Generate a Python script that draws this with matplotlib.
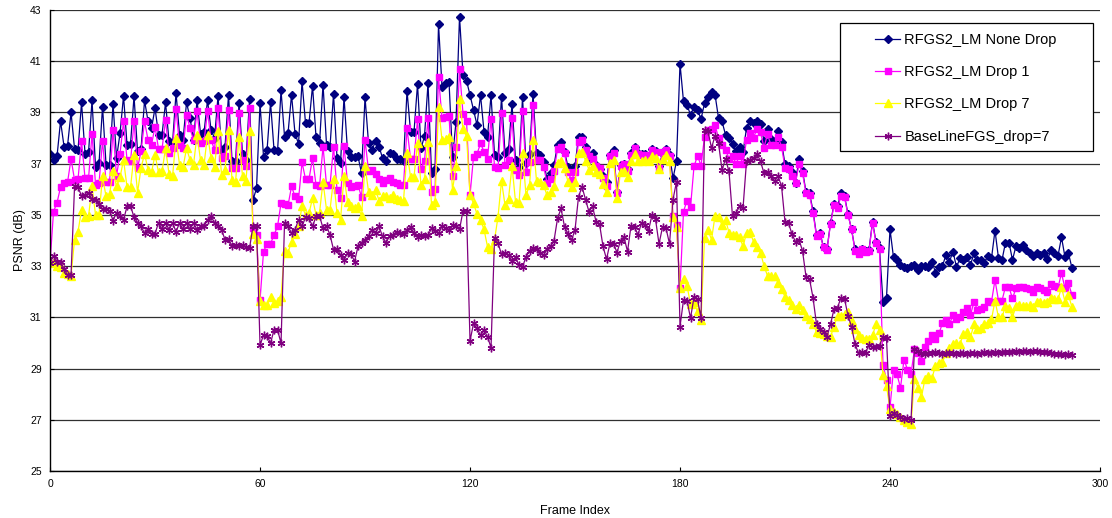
import numpy as np
import matplotlib
matplotlib.use("Agg")
import matplotlib.pyplot as plt
from matplotlib.patches import Rectangle

plt.rcParams['font.family'] = ['Liberation Sans', 'DejaVu Sans']

# PSNR per frame (dB), frames 0..292
none_drop = [
    37.39, 37.13, 37.3, 38.66, 37.67, 37.70, 39.0, 37.58, 37.54, 39.39,
    37.39, 37.44, 39.47, 36.86, 37.02, 39.23, 36.96, 36.96, 39.34, 37.22,
    38.19, 39.65, 37.74, 37.78, 39.63, 37.48, 37.57, 39.47, 38.66, 38.39,
    39.17, 38.13, 38.13, 39.39, 37.87, 37.80, 39.76, 38.13, 37.93, 39.39,
    38.78, 37.93, 39.47, 38.17, 38.22, 39.49, 38.32, 38.0, 39.65, 37.48,
    37.67, 39.69,
    37.11, 37.11, 39.36, 37.39, 37.15, 39.52, 35.59, 36.04, 39.36, 37.26,
    37.52, 39.39, 37.54, 37.48, 39.86, 38.06, 38.19, 39.69, 38.17, 37.78,
    40.21, 38.58, 38.58, 40.04, 38.04, 37.8, 40.09, 37.74, 37.67, 39.73,
    37.22, 37.02, 39.6, 37.48, 37.26, 37.26, 37.28, 36.63, 39.6, 37.8,
    37.54, 37.87, 37.67, 37.22, 37.09, 37.41, 37.39, 37.19, 37.19, 37.09,
    39.85, 38.25, 38.25, 40.11, 37.6, 38.08, 40.14, 36.62, 36.78, 42.45,
    40.0, 40.14, 40.2, 37.27, 38.64, 42.74, 40.46, 40.24, 39.68, 39.09,
    38.51, 39.68, 38.25, 38.05, 39.68, 37.34, 37.27, 39.61, 37.4, 37.56,
    39.33, 37.14, 36.88, 39.59, 37.01, 37.38, 39.72, 37.4, 37.34, 37.08,
    36.42, 36.62, 36.95, 37.73, 37.86, 37.47, 36.88, 36.75, 36.91, 38.05,
    38.05, 37.66,
    37.2, 37.4, 36.96, 36.8, 36.5, 36.3, 37.35, 37.54, 35.9, 36.95,
    37.0, 36.8, 37.4, 37.67, 37.4, 37.38, 37.38, 37.28, 37.57, 37.48,
    36.92, 37.38, 37.57, 37.35, 36.43, 37.1,
    40.9, 39.43, 39.3, 38.9, 39.23, 39.1, 38.74, 39.36, 39.6, 39.8,
    39.7, 38.78, 38.65, 38.13, 38.0, 37.78, 37.48, 37.67, 37.44, 38.39,
    38.67, 38.58, 38.67, 38.54, 37.9, 38.35, 37.96, 37.9, 38.28, 37.83,
    36.98, 36.92, 36.68, 36.26, 37.18, 36.72, 35.9, 35.85, 35.16, 34.21,
    34.31, 33.73, 33.66, 34.68, 35.42, 35.33, 35.85, 35.74, 35.03, 34.44,
    33.66, 33.5, 33.66, 33.6, 33.64, 34.73, 33.95, 33.69, 31.6, 31.77,
    34.44, 33.34, 33.25,
    33.05, 32.96, 32.92, 33.01, 33.05, 32.85, 33.01, 33.01, 32.96, 33.18,
    32.75, 32.98, 33.01, 33.44, 33.18, 33.57, 32.96, 33.31, 33.24, 33.35,
    33.05, 33.5, 33.22, 33.22, 33.14, 33.4, 33.31, 34.39, 33.31, 33.24,
    33.92, 33.92, 33.24, 33.79, 33.7, 33.83, 33.61, 33.53, 33.4, 33.53,
    33.44, 33.53, 33.27, 33.61, 33.53, 33.4, 34.13, 33.35, 33.5, 32.92,
]

drop_1 = [
    33.14, 35.13, 35.48, 36.08, 36.24, 36.27, 37.19, 36.37, 36.4, 37.89,
    36.43, 36.43, 38.17, 36.17, 36.24, 37.9, 36.3, 36.3, 38.3, 36.53,
    37.39, 38.65, 37.15, 37.09, 38.65, 36.83, 37.48, 38.65, 37.93, 37.74,
    38.45, 37.57, 37.57, 38.71, 37.41, 37.6, 39.13, 37.71, 37.6, 38.91,
    38.39, 37.91, 39.04, 37.8, 37.87, 39.04, 37.93, 37.54, 39.17, 37.22,
    37.31, 39.1,
    36.83, 36.83, 38.97, 37.15, 36.89, 39.17, 34.48, 34.22, 31.66, 33.57,
    33.87, 33.87, 34.22, 34.55, 35.46, 35.43, 35.37, 36.11, 35.72, 35.61,
    37.05, 36.4, 36.4, 37.22, 36.17, 36.11, 37.67, 36.17, 36.17, 37.67,
    35.98, 35.65, 37.7, 36.24, 36.08, 36.14, 36.17, 35.69, 37.93, 36.73,
    36.76, 36.6, 36.4, 36.24, 36.37, 36.43, 36.3, 36.24, 36.17, 36.17,
    38.38, 37.2, 37.2, 38.73, 36.78, 37.11, 38.77, 35.9, 36.03, 40.4,
    38.77, 38.83, 38.86, 36.52, 37.64, 40.68, 38.94, 38.68, 35.77, 37.27,
    37.38, 37.79, 37.47, 37.2, 38.73, 36.88, 36.82, 38.96, 36.95, 37.14,
    38.77, 36.75, 36.55, 39.07, 36.68, 37.08, 39.29, 37.14, 37.14, 36.88,
    36.26, 36.42, 36.72, 37.56, 37.66, 37.4, 36.68, 36.36, 36.68, 37.86,
    37.92, 37.53,
    37.3, 37.2, 36.9, 36.83, 36.43, 36.14, 37.3, 37.41, 35.85, 36.92,
    37.0, 36.73, 37.35, 37.6, 37.39, 37.35, 37.35, 37.26, 37.54, 37.44,
    36.83, 37.44, 37.54, 37.31, 34.96, 34.6,
    32.14, 35.13, 35.56, 35.3, 36.89, 37.31, 36.92, 38.04, 38.3, 38.35,
    38.52, 38.0, 37.74, 37.54, 37.2, 37.31, 37.0, 37.31, 37.0, 37.93,
    38.19, 38.02, 38.35, 38.22, 37.63, 38.15, 37.72, 37.72, 38.06, 37.67,
    36.85, 36.79, 36.53, 36.24, 36.98, 36.63, 35.85, 35.77, 35.09, 34.16,
    34.25, 33.73, 33.64, 34.64, 35.38, 35.25, 35.75, 35.68, 35.0, 34.45,
    33.6, 33.47, 33.66, 33.56, 33.6, 34.68, 33.92, 33.66,
    29.15, 28.57, 27.48, 28.96, 28.77, 28.25, 29.35, 28.96, 28.8, 29.75,
    29.6, 29.3, 29.86, 30.06, 30.32, 30.15, 30.38, 30.77, 30.9, 30.74,
    31.09, 30.92, 31.03, 31.22, 31.35, 31.09, 31.61, 31.29, 31.32, 31.42,
    31.65, 31.61, 32.46, 31.65, 31.65, 32.2, 32.17, 31.74, 32.14, 32.17,
    32.2, 32.14, 32.1, 32.0, 32.17, 32.14, 32.07, 32.0, 32.3, 32.23,
    32.17, 32.72, 32.14, 32.33, 31.87,
]

drop_7 = [
    33.14, 33.18, 33.01, 32.98, 32.75, 32.7, 32.62, 34.03, 34.35, 35.2,
    34.91, 34.94, 36.11, 35.0, 35.0, 36.5, 35.72, 35.8, 36.7, 36.11,
    36.47, 37.15, 36.08, 36.08, 37.35, 35.87, 36.83, 37.39, 36.76, 36.66,
    37.35, 36.66, 36.7, 37.6, 36.6, 36.5, 38.0, 36.96, 36.86, 37.6,
    37.15, 36.96, 38.13, 37.13, 36.96, 38.13, 37.22, 36.86, 38.26, 36.57,
    36.76, 38.32,
    36.37, 36.27, 38.04, 36.5, 36.34, 38.26, 34.26, 34.05, 31.62, 31.49,
    31.49, 31.79, 31.55, 31.62, 31.81, 33.6, 33.53, 33.96, 34.26, 34.55,
    35.33, 35.0, 35.07, 35.65, 35.0, 35.09, 36.3, 35.2, 35.2, 36.4,
    35.07, 34.81, 36.5, 35.52, 35.33, 35.26, 35.35, 34.94, 36.92, 35.91,
    35.78, 35.98, 35.56, 35.72, 35.72, 35.65, 35.78, 35.61, 35.59, 35.56,
    37.43, 36.49, 36.49, 37.82, 36.16, 36.42, 37.86, 35.38, 35.51, 39.2,
    37.92, 37.95, 38.05, 35.97, 36.91, 39.51, 38.34, 38.08, 35.77, 35.45,
    35.03, 34.8, 34.43, 33.76, 33.65, 34.02, 34.93, 36.33, 35.38, 35.64,
    36.91, 35.51, 35.45, 37.43, 35.77, 36.16, 37.92, 36.33, 36.29, 36.16,
    35.77, 35.9, 36.12, 37.01, 37.11, 36.82, 36.29, 36.1, 36.29, 37.43,
    37.47, 37.11,
    36.76, 36.89, 36.66, 36.6, 36.21, 35.88, 37.02, 37.15, 35.65, 36.66,
    36.7, 36.47, 37.09, 37.39, 37.09, 37.09, 37.15, 37.09, 37.28, 37.22,
    36.79, 37.18, 37.35, 37.09, 34.91, 34.52,
    32.14, 32.49, 32.23, 31.53, 31.58, 31.23, 30.88, 34.09, 34.42, 34.03,
    34.96, 34.91, 34.61, 34.81, 34.31, 34.22, 34.22, 34.13, 33.77, 34.29,
    34.35, 33.95, 33.75, 33.53, 33.01, 32.62, 32.62, 32.6, 32.36, 32.1,
    31.81, 31.68, 31.47, 31.34, 31.47, 31.29, 31.06, 30.95, 30.73, 30.43,
    30.4, 30.34, 30.28, 30.25, 30.64, 31.06, 31.06, 31.12, 31.19, 30.86,
    30.54, 30.3, 30.21, 30.17, 30.17, 30.3, 30.73, 30.5,
    28.73, 28.32, 27.41, 27.3, 27.22, 27.09, 27.0, 26.9, 26.83, 28.6,
    28.25, 27.9, 28.6, 28.7, 28.64, 29.1, 29.2, 29.25, 29.6, 29.8,
    29.96, 29.99, 29.96, 30.35, 30.44, 30.22, 30.74, 30.53, 30.6, 30.74,
    30.79, 30.92, 31.65, 31.0, 31.0, 31.44, 31.35, 31.0, 31.44, 31.48,
    31.44, 31.44, 31.48, 31.42, 31.58, 31.58, 31.55, 31.58, 31.74, 31.7,
    31.7, 32.17, 31.61, 31.87, 31.39,
]

baseline = [
    33.14, 33.4, 33.18, 33.18, 32.88, 32.66, 32.66, 36.11, 36.08, 35.74,
    35.78, 35.85, 35.61, 35.59, 35.43, 35.22, 35.22, 35.17, 34.78, 35.09,
    34.96, 34.81, 35.33, 35.35, 34.91, 34.7, 34.55, 34.29, 34.44, 34.26,
    34.26, 34.7, 34.44, 34.7, 34.42, 34.68, 34.35, 34.68, 34.44, 34.7,
    34.44, 34.68, 34.42, 34.55, 34.55, 34.81, 34.94, 34.7, 34.55, 34.42,
    34.03, 34.05,
    33.79, 33.83, 33.79, 33.83, 33.75, 33.7, 34.57, 34.57, 29.92, 30.31,
    30.28, 29.99, 30.51, 30.51, 29.99, 34.68, 34.55, 34.29, 34.42, 34.81,
    34.55, 34.91, 34.87, 34.55, 34.94, 34.96, 34.48, 34.55, 34.22, 33.64,
    33.66, 33.44, 33.24, 33.5, 33.48, 33.18, 33.77, 33.92, 34.03, 34.18,
    34.42, 34.29, 34.55, 34.16, 33.9, 34.18, 34.22, 34.35, 34.29, 34.26,
    34.41, 34.51, 34.3, 34.15, 34.21, 34.17, 34.2, 34.47, 34.38, 34.28,
    34.56, 34.47, 34.41, 34.6, 34.56, 34.43, 35.16, 35.16, 30.08, 30.76,
    30.57, 30.3, 30.5, 30.24, 29.82,
    34.08, 33.89, 33.47, 33.52, 33.43, 33.21, 33.34, 33.04, 32.97, 33.36,
    33.6, 33.69, 33.65, 33.52, 33.43, 33.65, 33.78, 33.99, 34.86, 35.25,
    34.54, 34.25, 34.02, 34.41, 35.71, 36.1, 35.6, 35.12,
    35.33, 34.74, 34.65, 33.77, 33.27, 33.9, 33.87, 33.53, 34.0, 34.13,
    33.57, 34.57, 34.52, 34.22, 34.7, 34.61, 34.39, 35.0, 34.83, 33.87,
    34.52, 34.48, 33.87, 35.6, 36.3,
    30.64, 31.68, 31.65, 30.97, 31.79, 31.7, 30.97, 38.3, 38.26, 37.61,
    38.09, 37.8, 36.76, 37.18, 36.7, 34.94, 35.07, 35.33, 35.26, 37.09,
    37.15, 37.22, 37.39, 37.09, 36.63, 36.66, 36.5, 36.33, 36.5, 36.14,
    34.73, 34.68, 34.25, 33.95, 34.03, 33.6, 32.59, 32.5, 31.77, 30.73,
    30.56, 30.41, 30.25, 30.73, 31.32, 31.38, 31.77, 31.73, 31.06, 30.64,
    29.96, 29.6, 29.66, 29.62, 29.92, 29.86, 29.86, 29.9, 30.25, 30.18,
    27.15, 27.25, 27.18, 27.1, 27.05, 27.07, 26.98,
    29.76, 29.67, 29.6, 29.58, 29.62, 29.6, 29.63, 29.6, 29.58, 29.6,
    29.62, 29.6, 29.57, 29.6, 29.62, 29.58, 29.6, 29.61, 29.58, 29.6,
    29.63, 29.62, 29.6, 29.64, 29.62, 29.65, 29.63, 29.66, 29.64, 29.68,
    29.66, 29.7, 29.68, 29.66, 29.7, 29.68, 29.65, 29.66, 29.63, 29.6,
    29.58, 29.56, 29.57, 29.54, 29.55, 29.52,
]

labels = ["RFGS2_LM None Drop", "RFGS2_LM Drop 1", "RFGS2_LM Drop 7",
          "BaseLineFGS_drop=7"]
x_ticks = [0, 60, 120, 180, 240, 300]
y_ticks = list(range(25, 44, 2))

frames = np.arange(len(none_drop))

fig = plt.figure(figsize=(11.12, 5.18), dpi=100)
ax = fig.add_axes([0.045, 0.0907, 0.9442, 0.89])

ax.plot(frames, none_drop, color='#000080', lw=0.9, marker='D', ms=3.8,
        label=labels[0])
ax.plot(frames, drop_1, color='#ff00ff', lw=0.9, marker='s', ms=4.8,
        label=labels[1])
ax.plot(frames, drop_7, color='#ffff00', lw=0.9, marker='^', ms=5.2,
        label=labels[2])
ax.plot(frames, baseline, color='#800080', lw=0.9, marker=(6, 2, 0), ms=5.5,
        mew=1.0, label=labels[3])

ax.set_xlim(0, 300)
ax.set_ylim(25, 43)
ax.set_xticks(x_ticks)
ax.set_yticks(y_ticks)
ax.yaxis.grid(True, color='#303030', lw=0.9)
ax.set_axisbelow(True)
ax.tick_params(direction='in', length=3, labelsize=7.5, pad=6)
for side in ('top', 'right'):
    ax.spines[side].set_visible(False)
ax.spines['left'].set_linewidth(1.0)
ax.spines['bottom'].set_linewidth(1.0)

ax.set_xlabel("Frame Index", fontsize=9, labelpad=11)
ax.set_ylabel("PSNR (dB)", fontsize=9, labelpad=3)

# legend box drawn separately so its frame can be sized freely
box = Rectangle((0.752, 0.694), 0.241, 0.278, transform=ax.transAxes,
                facecolor='white', edgecolor='black', lw=0.9, zorder=4)
ax.add_patch(box)
leg = ax.legend(loc='upper left', bbox_to_anchor=(0.779, 0.966),
                frameon=False, fontsize=10.5, borderpad=0,
                handlelength=1.7, handletextpad=0.3, labelspacing=1.25)
leg.set_zorder(5)

fig.savefig("out.png", dpi=100)
